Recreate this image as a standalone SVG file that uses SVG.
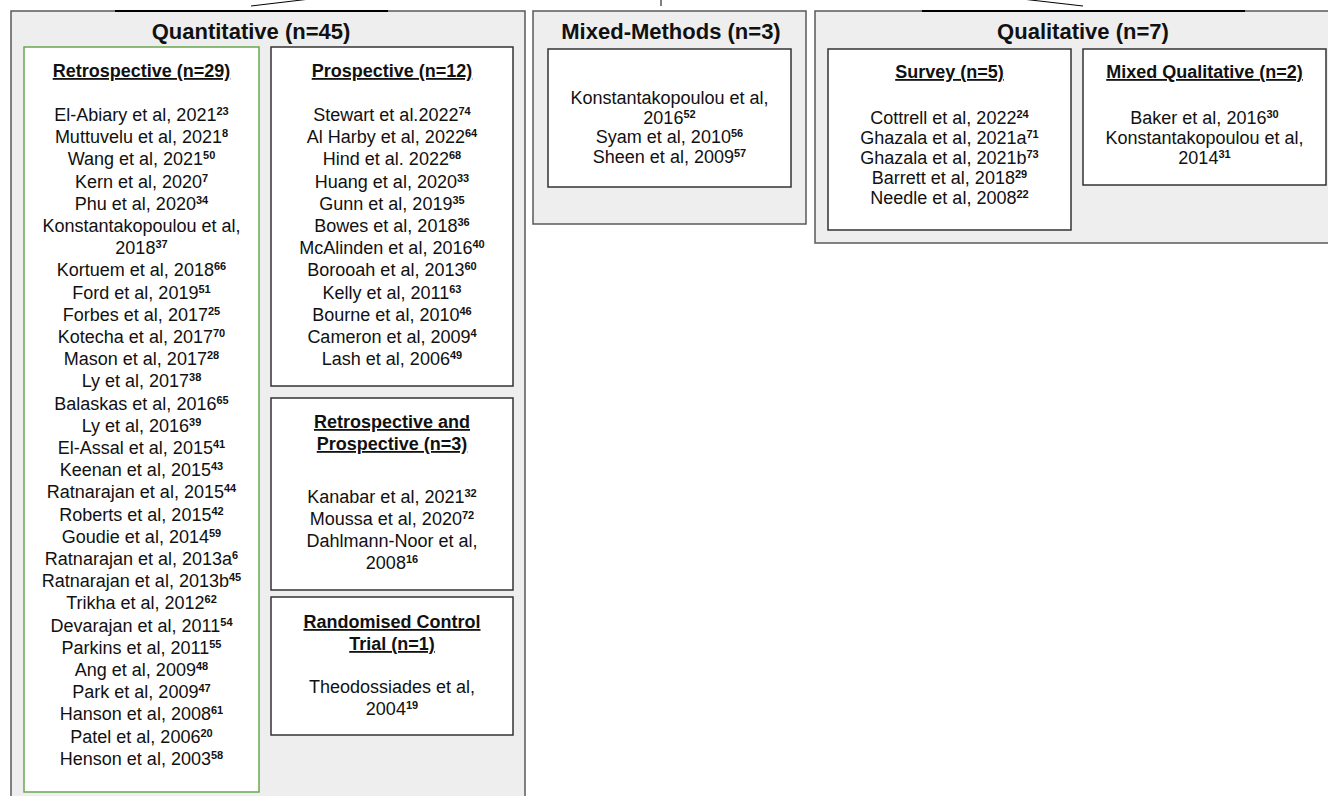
<svg xmlns="http://www.w3.org/2000/svg" width="1328" height="796" viewBox="0 0 1328 796">
<style>
.outer{fill:#eeeeee;stroke:#595959;stroke-width:1.5}
.inner{fill:#ffffff;stroke:#333333;stroke-width:1.5}
.green{fill:#ffffff;stroke:#6aa84f;stroke-width:1.5}
text{font-family:"Liberation Sans",Arial,sans-serif;font-size:18px;fill:#111111;text-anchor:middle}
.title{font-size:22px;font-weight:bold}
.h{font-weight:bold;text-decoration:underline}
.s{font-size:11px;font-weight:bold}
.conn{stroke:#000000;stroke-width:1;fill:none}
.seg{stroke:#000000;stroke-width:2.2;fill:none}
</style>
<rect width="1328" height="796" fill="#ffffff"/>

<g id="quantitative">
<rect class="outer" x="11" y="11" width="514" height="810"/>
<text class="title" x="251" y="39">Quantitative (n=45)</text>
</g>

<g id="retrospective">
<rect class="green" x="24" y="47" width="235" height="745"/>
<text class="h" x="141.5" y="77">Retrospective (n=29)</text>
<text x="141.5" y="121">El-Abiary et al, 2021<tspan class="s" dy="-6">23</tspan></text>
<text x="141.5" y="143.2">Muttuvelu et al, 2021<tspan class="s" dy="-6">8</tspan></text>
<text x="141.5" y="165.4">Wang et al, 2021<tspan class="s" dy="-6">50</tspan></text>
<text x="141.5" y="187.6">Kern et al, 2020<tspan class="s" dy="-6">7</tspan></text>
<text x="141.5" y="209.8">Phu et al, 2020<tspan class="s" dy="-6">34</tspan></text>
<text x="141.5" y="232">Konstantakopoulou et al,</text>
<text x="141.5" y="254.2">2018<tspan class="s" dy="-6">37</tspan></text>
<text x="141.5" y="276.4">Kortuem et al, 2018<tspan class="s" dy="-6">66</tspan></text>
<text x="141.5" y="298.6">Ford et al, 2019<tspan class="s" dy="-6">51</tspan></text>
<text x="141.5" y="320.8">Forbes et al, 2017<tspan class="s" dy="-6">25</tspan></text>
<text x="141.5" y="343">Kotecha et al, 2017<tspan class="s" dy="-6">70</tspan></text>
<text x="141.5" y="365.2">Mason et al, 2017<tspan class="s" dy="-6">28</tspan></text>
<text x="141.5" y="387.4">Ly et al, 2017<tspan class="s" dy="-6">38</tspan></text>
<text x="141.5" y="409.6">Balaskas et al, 2016<tspan class="s" dy="-6">65</tspan></text>
<text x="141.5" y="431.8">Ly et al, 2016<tspan class="s" dy="-6">39</tspan></text>
<text x="141.5" y="454">El-Assal et al, 2015<tspan class="s" dy="-6">41</tspan></text>
<text x="141.5" y="476.2">Keenan et al, 2015<tspan class="s" dy="-6">43</tspan></text>
<text x="141.5" y="498.4">Ratnarajan et al, 2015<tspan class="s" dy="-6">44</tspan></text>
<text x="141.5" y="520.6">Roberts et al, 2015<tspan class="s" dy="-6">42</tspan></text>
<text x="141.5" y="542.8">Goudie et al, 2014<tspan class="s" dy="-6">59</tspan></text>
<text x="141.5" y="565">Ratnarajan et al, 2013a<tspan class="s" dy="-6">6</tspan></text>
<text x="141.5" y="587.2">Ratnarajan et al, 2013b<tspan class="s" dy="-6">45</tspan></text>
<text x="141.5" y="609.4">Trikha et al, 2012<tspan class="s" dy="-6">62</tspan></text>
<text x="141.5" y="631.6">Devarajan et al, 2011<tspan class="s" dy="-6">54</tspan></text>
<text x="141.5" y="653.8">Parkins et al, 2011<tspan class="s" dy="-6">55</tspan></text>
<text x="141.5" y="676">Ang et al, 2009<tspan class="s" dy="-6">48</tspan></text>
<text x="141.5" y="698.2">Park et al, 2009<tspan class="s" dy="-6">47</tspan></text>
<text x="141.5" y="720.4">Hanson et al, 2008<tspan class="s" dy="-6">61</tspan></text>
<text x="141.5" y="742.6">Patel et al, 2006<tspan class="s" dy="-6">20</tspan></text>
<text x="141.5" y="764.8">Henson et al, 2003<tspan class="s" dy="-6">58</tspan></text>
</g>

<g id="prospective">
<rect class="inner" x="271" y="47" width="242" height="339"/>
<text class="h" x="392" y="77">Prospective (n=12)</text>
<text x="392" y="121">Stewart et al.2022<tspan class="s" dy="-6">74</tspan></text>
<text x="392" y="143.2">Al Harby et al, 2022<tspan class="s" dy="-6">64</tspan></text>
<text x="392" y="165.4">Hind et al. 2022<tspan class="s" dy="-6">68</tspan></text>
<text x="392" y="187.6">Huang et al, 2020<tspan class="s" dy="-6">33</tspan></text>
<text x="392" y="209.8">Gunn et al, 2019<tspan class="s" dy="-6">35</tspan></text>
<text x="392" y="232">Bowes et al, 2018<tspan class="s" dy="-6">36</tspan></text>
<text x="392" y="254.2">McAlinden et al, 2016<tspan class="s" dy="-6">40</tspan></text>
<text x="392" y="276.4">Borooah et al, 2013<tspan class="s" dy="-6">60</tspan></text>
<text x="392" y="298.6">Kelly et al, 2011<tspan class="s" dy="-6">63</tspan></text>
<text x="392" y="320.8">Bourne et al, 2010<tspan class="s" dy="-6">46</tspan></text>
<text x="392" y="343">Cameron et al, 2009<tspan class="s" dy="-6">4</tspan></text>
<text x="392" y="365.2">Lash et al, 2006<tspan class="s" dy="-6">49</tspan></text>
</g>

<g id="retro-prospective">
<rect class="inner" x="271" y="398" width="242" height="192"/>
<text class="h" x="392" y="428">Retrospective and</text>
<text class="h" x="392" y="450">Prospective (n=3)</text>
<text x="392" y="503">Kanabar et al, 2021<tspan class="s" dy="-6">32</tspan></text>
<text x="392" y="525">Moussa et al, 2020<tspan class="s" dy="-6">72</tspan></text>
<text x="392" y="547">Dahlmann-Noor et al,</text>
<text x="392" y="569">2008<tspan class="s" dy="-6">16</tspan></text>
</g>

<g id="rct">
<rect class="inner" x="271" y="597" width="242" height="138"/>
<text class="h" x="392" y="628">Randomised Control</text>
<text class="h" x="392" y="650">Trial (n=1)</text>
<text x="392" y="693">Theodossiades et al,</text>
<text x="392" y="715">2004<tspan class="s" dy="-6">19</tspan></text>
</g>

<g id="mixed-methods">
<rect class="outer" x="533" y="11" width="273" height="213"/>
<text class="title" x="671" y="39">Mixed-Methods (n=3)</text>
<rect class="inner" x="548" y="49" width="243" height="138"/>
<text x="669.5" y="104">Konstantakopoulou et al,</text>
<text x="669.5" y="123.5">2016<tspan class="s" dy="-6">52</tspan></text>
<text x="669.5" y="143">Syam et al, 2010<tspan class="s" dy="-6">56</tspan></text>
<text x="669.5" y="162.5">Sheen et al, 2009<tspan class="s" dy="-6">57</tspan></text>
</g>

<g id="qualitative">
<rect class="outer" x="815" y="11" width="530" height="232"/>
<text class="title" x="1083" y="39">Qualitative (n=7)</text>
</g>

<g id="survey">
<rect class="inner" x="828" y="49" width="243" height="181"/>
<text class="h" x="949.5" y="78">Survey (n=5)</text>
<text x="949.5" y="124">Cottrell et al, 2022<tspan class="s" dy="-6">24</tspan></text>
<text x="949.5" y="144">Ghazala et al, 2021a<tspan class="s" dy="-6">71</tspan></text>
<text x="949.5" y="164">Ghazala et al, 2021b<tspan class="s" dy="-6">73</tspan></text>
<text x="949.5" y="184">Barrett et al, 2018<tspan class="s" dy="-6">29</tspan></text>
<text x="949.5" y="204">Needle et al, 2008<tspan class="s" dy="-6">22</tspan></text>
</g>

<g id="mixed-qualitative">
<rect class="inner" x="1083" y="49" width="243" height="136"/>
<text class="h" x="1204.5" y="78">Mixed Qualitative (n=2)</text>
<text x="1204.5" y="124">Baker et al, 2016<tspan class="s" dy="-6">30</tspan></text>
<text x="1204.5" y="144">Konstantakopoulou et al,</text>
<text x="1204.5" y="164">2014<tspan class="s" dy="-6">31</tspan></text>
</g>

<g id="connectors">
<line class="seg" x1="115" y1="11" x2="388" y2="11"/>
<line class="seg" x1="922" y1="11" x2="1245" y2="11"/>
<line class="conn" x1="251" y1="6" x2="310" y2="-1"/>
<line class="conn" x1="661" y1="6" x2="661" y2="-1"/>
<line class="conn" x1="1083" y1="6" x2="1022" y2="-1"/>
</g>
</svg>
